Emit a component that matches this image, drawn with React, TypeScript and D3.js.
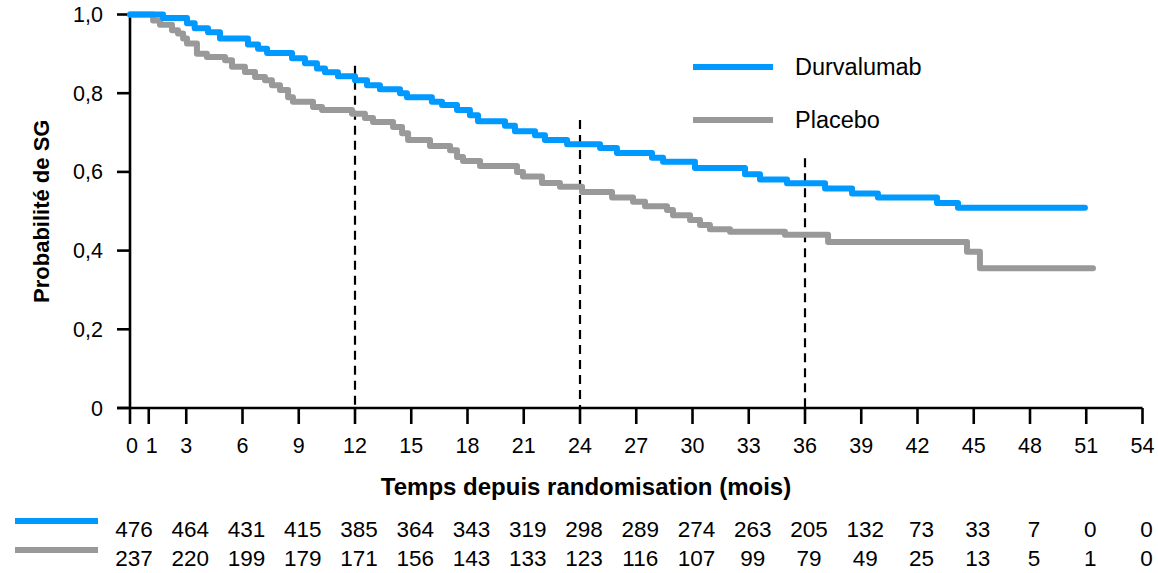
import * as d3 from "d3";
import React, { useEffect, useRef } from "react";

// Courbes de Kaplan-Meier (temps en mois, probabilité de survie)
const durvaTimes = [0, 1.76, 3.04, 3.45, 4.16, 4.8, 6.29, 6.83, 7.31, 8.64, 9.33, 9.97, 10.4, 11.09, 12.0, 12.64, 13.33, 14.4, 14.77, 16.1, 16.64, 17.44, 18.13, 18.56, 20.0, 20.53, 21.6, 22.13, 23.31, 25.07, 25.97, 27.84, 28.43, 30.13, 32.8, 33.6, 35.04, 37.07, 38.51, 39.89, 43.04, 44.16, 50.93];
const durvaSurv = [1.0, 0.991, 0.978, 0.965, 0.955, 0.939, 0.924, 0.913, 0.902, 0.889, 0.876, 0.863, 0.853, 0.843, 0.833, 0.82, 0.81, 0.8, 0.79, 0.778, 0.77, 0.757, 0.744, 0.729, 0.717, 0.703, 0.693, 0.681, 0.67, 0.661, 0.648, 0.636, 0.626, 0.61, 0.594, 0.581, 0.571, 0.558, 0.545, 0.535, 0.521, 0.509, 0.509];

const placeboTimes = [0, 1.23, 1.6, 2.24, 2.56, 2.83, 3.04, 3.57, 4.1, 5.07, 5.44, 6.13, 6.67, 7.2, 7.57, 8.0, 8.43, 8.69, 9.76, 10.24, 11.84, 12.53, 12.96, 14.03, 14.51, 14.83, 16.0, 17.07, 17.44, 17.76, 18.67, 20.64, 20.96, 21.97, 22.93, 24.11, 25.71, 26.83, 27.47, 28.64, 28.96, 29.87, 30.4, 30.93, 32.0, 34.93, 37.23, 44.64, 45.33, 51.36];
const placeboSurv = [1.0, 0.985, 0.974, 0.96, 0.952, 0.939, 0.926, 0.9, 0.892, 0.884, 0.867, 0.854, 0.841, 0.833, 0.82, 0.808, 0.79, 0.778, 0.765, 0.757, 0.748, 0.737, 0.727, 0.714, 0.698, 0.681, 0.666, 0.655, 0.638, 0.628, 0.615, 0.6, 0.588, 0.572, 0.562, 0.549, 0.535, 0.524, 0.513, 0.503, 0.49, 0.478, 0.465, 0.454, 0.448, 0.44, 0.422, 0.397, 0.355, 0.355];

const xTicks = [0, 1, 3, 6, 9, 12, 15, 18, 21, 24, 27, 30, 33, 36, 39, 42, 45, 48, 51, 54];
const yTicks = [0, 0.2, 0.4, 0.6, 0.8, 1.0];
const landmarks = [12, 24, 36];

const riskMonths = [0, 3, 6, 9, 12, 15, 18, 21, 24, 27, 30, 33, 36, 39, 42, 45, 48, 51, 54];
const durvaRisk = [476, 464, 431, 415, 385, 364, 343, 319, 298, 289, 274, 263, 205, 132, 73, 33, 7, 0, 0];
const placeboRisk = [237, 220, 199, 179, 171, 156, 143, 133, 123, 116, 107, 99, 79, 49, 25, 13, 5, 1, 0];

const BLUE = "#0099ff";
const GREY = "#999999";
const FONT = "'Liberation Sans', Arial, sans-serif";

export default function App() {
  const ref = useRef<SVGSVGElement>(null);

  useEffect(() => {
    const width = 1158;
    const height = 573;
    const svg = d3.select(ref.current);
    svg.selectAll("*").remove();

    const x = d3.scaleLinear().domain([0, 54]).range([130, 1142.5]);
    const y = d3.scaleLinear().domain([0, 1]).range([408, 14.5]);

    svg.attr("viewBox", [0, 0, width, height]).style("font-family", FONT);

    // Lignes pointillées aux repères 12, 24, 36 mois
    const dashTop = { 12: 0.87, 24: 0.732, 36: 0.635 } as Record<number, number>;
    svg
      .append("g")
      .selectAll("line")
      .data(landmarks)
      .join("line")
      .attr("x1", (d) => x(d))
      .attr("x2", (d) => x(d))
      .attr("y1", (d) => y(dashTop[d]))
      .attr("y2", y(0))
      .attr("stroke", "#000")
      .attr("stroke-width", 2.2)
      .attr("stroke-dasharray", "9,6");

    // Axe Y
    const gy = svg.append("g");
    gy.append("line")
      .attr("x1", x(0)).attr("x2", x(0))
      .attr("y1", y(1)).attr("y2", y(0))
      .attr("stroke", "#000").attr("stroke-width", 2.6);
    gy.selectAll(".yt")
      .data(yTicks)
      .join("line")
      .attr("x1", x(0) - 13).attr("x2", x(0))
      .attr("y1", (d) => y(d)).attr("y2", (d) => y(d))
      .attr("stroke", "#000").attr("stroke-width", 2.6);
    gy.selectAll("text")
      .data(yTicks)
      .join("text")
      .attr("x", 103)
      .attr("y", (d) => y(d) + 7.5)
      .attr("text-anchor", "end")
      .attr("font-size", 21.5)
      .text((d) => (d === 0 ? "0" : d3.format(".1f")(d).replace(".", ",")));

    svg.append("text")
      .attr("transform", `translate(49,${y(0.5)}) rotate(-90)`)
      .attr("text-anchor", "middle")
      .attr("font-size", 22)
      .attr("font-weight", "bold")
      .text("Probabilité de SG");

    // Axe X
    const gx = svg.append("g");
    gx.append("line")
      .attr("x1", x(0) - 13).attr("x2", x(54))
      .attr("y1", y(0)).attr("y2", y(0))
      .attr("stroke", "#000").attr("stroke-width", 2.6);
    gx.selectAll(".xt")
      .data(xTicks)
      .join("line")
      .attr("x1", (d) => x(d)).attr("x2", (d) => x(d))
      .attr("y1", y(0)).attr("y2", y(0) + 16)
      .attr("stroke", "#000").attr("stroke-width", 2.6);
    gx.selectAll("text")
      .data(xTicks)
      .join("text")
      .attr("x", (d) => x(d) + (d === 1 ? 3 : d === 0 ? 2 : 0))
      .attr("y", 453)
      .attr("text-anchor", "middle")
      .attr("font-size", 21.5)
      .text((d) => String(d));

    svg.append("text")
      .attr("x", 586)
      .attr("y", 495)
      .attr("text-anchor", "middle")
      .attr("font-size", 24)
      .attr("font-weight", "bold")
      .text("Temps depuis randomisation (mois)");

    // Courbes
    const line = d3
      .line<[number, number]>()
      .x((d) => x(d[0]))
      .y((d) => y(d[1]))
      .curve(d3.curveStepAfter);

    const series = [
      { times: placeboTimes, surv: placeboSurv, color: GREY },
      { times: durvaTimes, surv: durvaSurv, color: BLUE },
    ];
    svg
      .append("g")
      .selectAll("path")
      .data(series)
      .join("path")
      .attr("d", (s) => line(s.times.map((t, i) => [t, s.surv[i]] as [number, number])))
      .attr("fill", "none")
      .attr("stroke", (s) => s.color)
      .attr("stroke-width", 6)
      .attr("stroke-linejoin", "round")
      .attr("stroke-linecap", "round");

    // Légende
    const legend = [
      { label: "Durvalumab", color: BLUE, y: 67 },
      { label: "Placebo", color: GREY, y: 120 },
    ];
    const lg = svg.append("g").selectAll("g").data(legend).join("g");
    lg.append("line")
      .attr("x1", 693).attr("x2", 773)
      .attr("y1", (d) => d.y).attr("y2", (d) => d.y)
      .attr("stroke", (d) => d.color).attr("stroke-width", 6);
    lg.append("text")
      .attr("x", 795)
      .attr("y", (d) => d.y + 8)
      .attr("font-size", 23.5)
      .text((d) => d.label);

    // Nombre de patients à risque
    const rows = [
      { values: durvaRisk, color: BLUE, y: 537 },
      { values: placeboRisk, color: GREY, y: 566 },
    ];
    const rg = svg.append("g").selectAll("g").data(rows).join("g");
    rg.append("line")
      .attr("x1", 15).attr("x2", 98)
      .attr("y1", (d) => d.y - 16).attr("y2", (d) => d.y - 16)
      .attr("stroke", (d) => d.color).attr("stroke-width", 6);
    rg.selectAll("text")
      .data((d) => d.values.map((v, i) => ({ v, m: riskMonths[i], y: d.y })))
      .join("text")
      .attr("x", (d) => x(d.m) + 4)
      .attr("y", (d) => d.y)
      .attr("text-anchor", "middle")
      .attr("font-size", 22.5)
      .text((d) => String(d.v));
  }, []);

  return (
    <svg
      ref={ref}
      width={1158}
      height={573}
      style={{ position: "absolute", left: 0, top: 0, background: "#fff" }}
    />
  );
}
